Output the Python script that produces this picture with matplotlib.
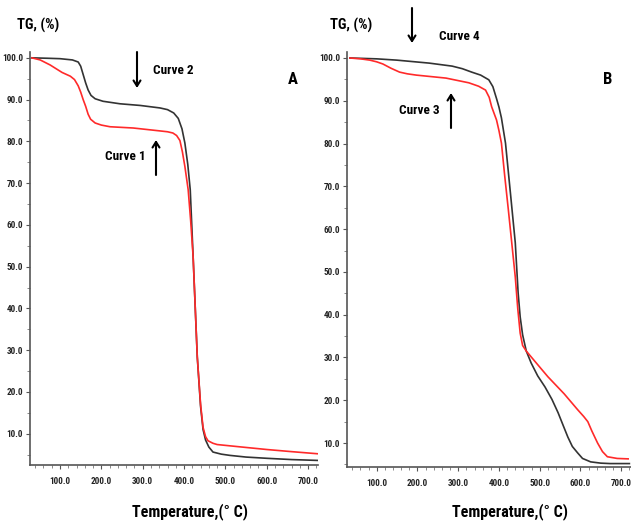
import matplotlib
matplotlib.use("Agg")
import matplotlib.pyplot as plt
from matplotlib import font_manager as fm
from matplotlib.ticker import MultipleLocator, FormatStrFormatter
from matplotlib.patches import FancyArrowPatch

W, H = 631, 524

# ---- data (temperature in deg C, TG in %) ----
c1_T = [32, 52, 76, 105, 125, 135, 144, 150, 156, 162, 168, 174, 185, 200, 221, 277, 342, 360, 373, 382, 390, 396, 402, 410, 416, 422, 432, 440, 446, 452, 458, 470, 480, 540, 601, 660, 722]
c1_W = [100, 99.5, 98.3, 96.5, 95.6, 94.8, 93.3, 91.8, 90.0, 88.4, 86.5, 85.3, 84.4, 83.9, 83.5, 83.2, 82.5, 82.3, 82.0, 81.4, 80.2, 77.5, 74.0, 68.4, 61.0, 52.3, 28.4, 17.0, 11.5, 9.3, 8.3, 7.7, 7.4, 6.8, 6.2, 5.7, 5.2]

c2_T = [32, 70, 100, 130, 144, 150, 156, 162, 168, 175, 185, 204, 245, 294, 342, 360, 375, 386, 395, 402, 409, 415, 422, 432, 440, 446, 452, 460, 470, 490, 511, 550, 601, 660, 722]
c2_W = [100, 99.9, 99.8, 99.5, 99.0, 98.0, 96.0, 94.0, 92.3, 91.0, 90.2, 89.6, 89.0, 88.6, 88.0, 87.6, 86.8, 85.5, 83.0, 79.6, 74.5, 68.4, 52.3, 28.4, 16.5, 11.0, 8.5, 6.8, 5.6, 5.1, 4.8, 4.4, 4.1, 3.8, 3.6]

c3_T = [34, 60, 83, 100, 115, 135, 156, 175, 197, 270, 326, 350, 367, 376, 382, 394, 400, 406, 414, 423, 440, 446, 452, 458, 467, 489, 520, 560, 593, 608, 618, 628, 642, 654, 666, 690, 717]
c3_W = [100, 99.8, 99.5, 99.1, 98.6, 97.6, 96.7, 96.3, 96.0, 95.3, 94.2, 93.4, 92.5, 90.8, 88.6, 85.5, 83.0, 80.1, 72.5, 64.5, 48.8, 41.5, 35.7, 32.8, 31.5, 29.0, 25.5, 21.5, 17.8, 16.2, 15.0, 12.8, 10.0, 8.0, 6.8, 6.4, 6.3]

c4_T = [34, 100, 149, 229, 285, 310, 333, 355, 375, 385, 394, 400, 406, 416, 428, 440, 447, 452, 458, 467, 479, 495, 513, 530, 545, 558, 569, 580, 593, 605, 625, 650, 673, 720]
c4_W = [100, 99.8, 99.5, 98.8, 98.1, 97.5, 96.7, 96.0, 94.9, 93.3, 90.5, 88.5, 86.0, 80.1, 68.5, 56.8, 45.1, 39.5, 35.3, 31.5, 28.7, 25.7, 23.1, 20.2, 17.1, 14.0, 11.4, 9.2, 7.7, 6.4, 5.6, 5.3, 5.2, 5.2]

x_ticks = [100, 200, 300, 400, 500, 600, 700]
y_ticks = [10, 20, 30, 40, 50, 60, 70, 80, 90, 100]

BLACK = '#333333'
RED = '#ff2a2a'

# ---- look for a narrow bold font; fall back to Liberation Sans bold ----
narrow_path = None
for f in fm.fontManager.ttflist:
    tag = (f.name + ' ' + f.fname).lower()
    if ('narrow' in tag or 'condensed' in tag) and str(f.weight) in ('700', 'bold'):
        if 'oblique' in tag or 'italic' in tag:
            continue
        narrow_path = f.fname
        if 'liberation' in tag:
            break

if narrow_path:
    def FP(size):
        return fm.FontProperties(fname=narrow_path, size=size)
    S_TICK, S_CURVE, S_TEMP, S_TG = 6.6, 9.5, 11.5, 10.5
else:
    def FP(size):
        return fm.FontProperties(family=['Liberation Sans', 'DejaVu Sans'], weight='bold', size=size)
    S_TICK, S_CURVE, S_TEMP, S_TG = 6.0, 8.5, 10.5, 9

fig = plt.figure(figsize=(W / 100, H / 100), dpi=100)


def px_axes(left, top, right, bottom):
    return fig.add_axes([left / W, 1 - bottom / H, (right - left) / W, (bottom - top) / H])


def fx(x):
    return x / W


def fy(y):
    return 1 - y / H


def style(ax, xlim, ylim):
    ax.set_xlim(*xlim)
    ax.set_ylim(*ylim)
    for s in ['top', 'right']:
        ax.spines[s].set_visible(False)
    for s in ['left', 'bottom']:
        ax.spines[s].set_color('#555555')
        ax.spines[s].set_linewidth(1.2)
    ax.set_xticks(x_ticks)
    ax.set_yticks(y_ticks)
    ax.xaxis.set_minor_locator(MultipleLocator(20))
    ax.yaxis.set_minor_locator(MultipleLocator(5))
    ax.xaxis.set_major_formatter(FormatStrFormatter('%.1f'))
    ax.yaxis.set_major_formatter(FormatStrFormatter('%.1f'))
    ax.tick_params(which='major', length=3, width=0.8, color='#555555', direction='out', pad=2)
    ax.tick_params(which='minor', length=2, width=0.6, color='#777777', direction='out')
    ax.tick_params(axis='x', pad=6)
    for lab in ax.get_xticklabels() + ax.get_yticklabels():
        lab.set_fontproperties(FP(S_TICK))
        lab.set_color('#222222')


axA = px_axes(30, 52, 318, 465)
axA.plot(c2_T, c2_W, color=BLACK, lw=1.2)
axA.plot(c1_T, c1_W, color=RED, lw=1.2)
style(axA, (27.4, 724), (2.5, 101.4))

axB = px_axes(347, 52, 631, 467)
axB.plot(c4_T, c4_W, color=BLACK, lw=1.2)
axB.plot(c3_T, c3_W, color=RED, lw=1.2)
style(axB, (27, 724), (4.4, 101.4))

# ---- texts ----
for x0 in (17, 330):
    fig.text(fx(x0), fy(25), 'TG, (%)', fontproperties=FP(S_TG), ha='left', va='center')
for xc in (190, 510):
    fig.text(fx(xc), fy(512), 'Temperature,(° C)', fontproperties=FP(S_TEMP),
             ha='center', va='center')

fig.text(fx(293), fy(80), 'A', fontproperties=FP(12), ha='center', va='center')
fig.text(fx(608), fy(80), 'B', fontproperties=FP(12), ha='center', va='center')

labels = [('Curve 2', 173, 71), ('Curve 1', 125, 157), ('Curve 4', 459, 36), ('Curve 3', 419, 110)]
for t, x, y in labels:
    fig.text(fx(x), fy(y), t, fontproperties=FP(S_CURVE), ha='center', va='center')

arrows = [(137, 52, 88), (156, 175, 140), (412, 8, 43), (451, 128, 93)]
for x, y0, y1 in arrows:
    fig.add_artist(FancyArrowPatch(
        (fx(x), fy(y0)), (fx(x), fy(y1)), transform=fig.transFigure,
        arrowstyle='->,head_length=4,head_width=2.5', color='black', lw=1.5,
        shrinkA=0, shrinkB=0))

fig.savefig('out.png', dpi=100)
